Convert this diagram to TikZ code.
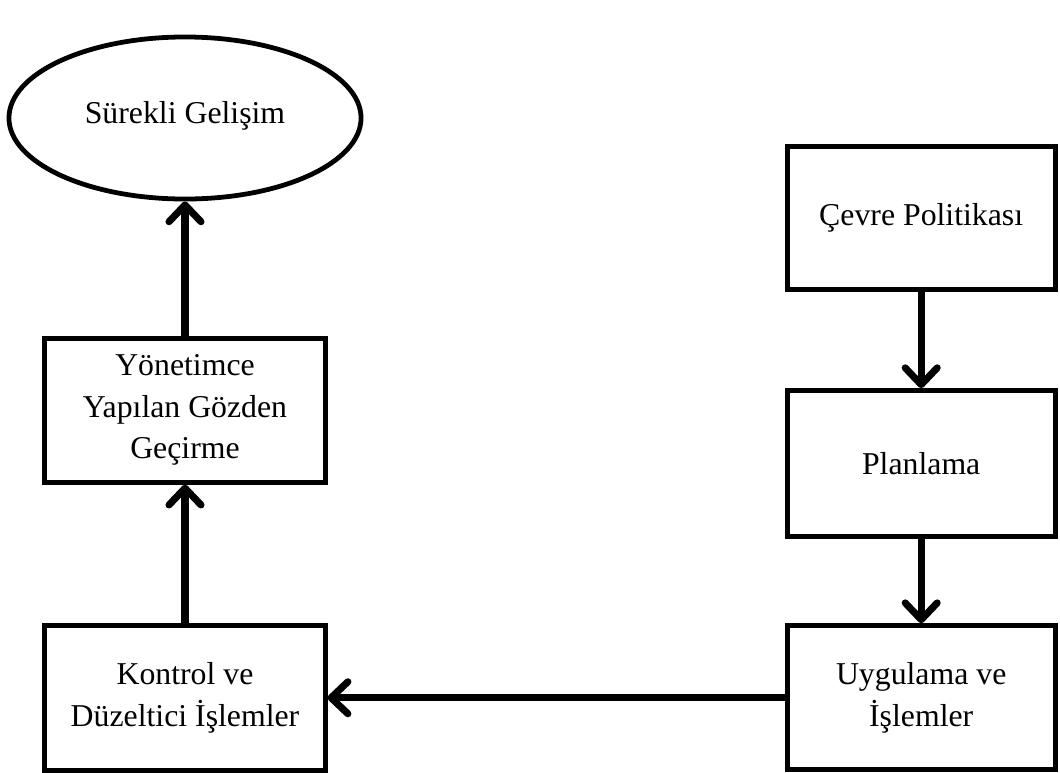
\documentclass[tikz,border=0pt]{standalone}
\usepackage{fontspec}
\setmainfont{Liberation Serif}
\usetikzlibrary{positioning, arrows.meta, shapes.geometric}
\tikzset{>={Straight Barb[length=0.42cm,width=0.8cm,round]}}

\begin{document}
\begin{tikzpicture}[x=0.025cm,y=-0.025cm,node distance=2cm,on grid,
    procbox/.style={draw,line width=3.6pt,rectangle,align=center,inner sep=0pt,
        minimum width=6.7cm,minimum height=3.6cm,font=\fontsize{22.6}{29.5}\selectfont},
    goal/.style={draw,line width=3.4pt,ellipse,inner sep=0pt,
        minimum width=8.8cm,minimum height=4.05cm,font=\fontsize{22.6}{29.5}\selectfont},
    flow/.style={->,line width=5pt,
        preaction={draw=gray!70,transform canvas={shift={(1.5pt,-2pt)}}}}]
    \useasboundingbox (0,0) rectangle (1060,772);
    \node[goal] (gel) at (185,118) {\raisebox{0.3cm}{Sürekli Gelişim}};
    \node[procbox,minimum width=7cm] (yon) [below=7.3cm of gel] {Yönetimce\\Yapılan Gözden\\Geçirme};
    \node[procbox,minimum width=7cm,minimum height=3.63cm] (kon) [below=7.19cm of yon] {Kontrol ve\\Düzeltici İşlemler};
    \node[procbox] (uyg) [right=18.4cm of kon] {Uygulama ve\\İşlemler};
    \node[procbox,minimum height=3.65cm] (pla) [above=5.85cm of uyg] {Planlama};
    \node[procbox,minimum height=3.58cm] (cev) [above=6.14cm of pla] {Çevre Politikası};
    \path[flow]
        (cev) edge (pla)
        (pla) edge (uyg)
        (uyg) edge (kon)
        (kon) edge (yon)
        (yon) edge (gel)
    ;
\end{tikzpicture}
\end{document}
